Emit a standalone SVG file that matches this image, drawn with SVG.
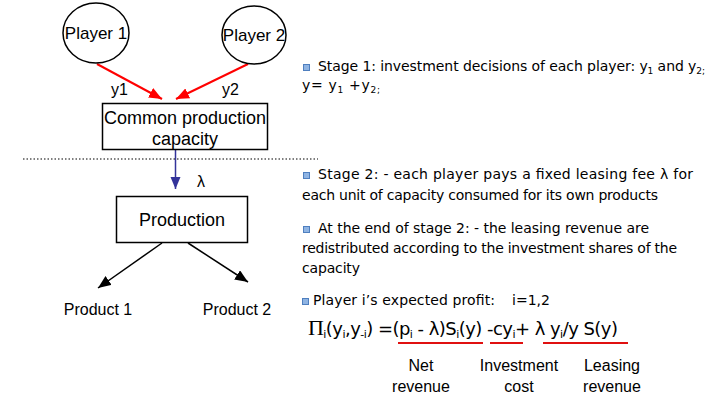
<svg xmlns="http://www.w3.org/2000/svg" width="709" height="397" viewBox="0 0 709 397">
<defs>
<style>
.d{font-family:"Liberation Sans",Arial,sans-serif;fill:#000}
.r{font-family:"DejaVu Sans","Liberation Sans",sans-serif;fill:#000;font-size:14px}
.f{font-family:"DejaVu Sans","Liberation Sans",sans-serif;fill:#000;font-size:18px}
.node{fill:#fff;stroke:#000;stroke-width:1.5}
.sub{font-size:9px}
.fs{font-size:11px}
.bul{fill:#8fb4e3;stroke:#4f7fbf;stroke-width:1}
.ul{stroke:#e01010;stroke-width:2}
</style>
<marker id="ar" viewBox="0 0 12 10" refX="12" refY="5" markerWidth="13" markerHeight="11" markerUnits="userSpaceOnUse" orient="auto"><path d="M0,0 L12,5 L0,10 Z" fill="#f00"/></marker>
<marker id="ab" viewBox="0 0 12 10" refX="12" refY="5" markerWidth="12" markerHeight="11" markerUnits="userSpaceOnUse" orient="auto"><path d="M0,0 L12,5 L0,10 Z" fill="#33339a"/></marker>
<marker id="ak" viewBox="0 0 12 10" refX="12" refY="5" markerWidth="13" markerHeight="11" markerUnits="userSpaceOnUse" orient="auto"><path d="M0,0 L12,5 L0,10 Z" fill="#000"/></marker>
</defs>
<rect width="709" height="397" fill="#fff"/>
<g id="connectors">
<line x1="97" y1="64" x2="162" y2="99" stroke="#f00" stroke-width="2" marker-end="url(#ar)"/>
<line x1="248" y1="64" x2="176" y2="99" stroke="#f00" stroke-width="2" marker-end="url(#ar)"/>
<text class="d" x="111" y="95" font-size="16">y1</text>
<text class="d" x="222" y="95" font-size="16">y2</text>
<line x1="175.5" y1="150" x2="175.5" y2="189" stroke="#33339a" stroke-width="1.5" marker-end="url(#ab)"/>
<text class="d" x="197" y="187" font-size="16">λ</text>
<line x1="162" y1="243" x2="98" y2="288" stroke="#000" stroke-width="1.5" marker-end="url(#ak)"/>
<line x1="188" y1="243" x2="248" y2="282" stroke="#000" stroke-width="1.5" marker-end="url(#ak)"/>
</g>
<line x1="23" y1="159" x2="318" y2="159" stroke="#000" stroke-width="1.2" stroke-dasharray="1.5,2"/>
<g id="player1"><ellipse class="node" cx="96" cy="33" rx="33" ry="30"/><text class="d" x="96" y="39" font-size="17" text-anchor="middle">Player 1</text></g>
<g id="player2"><ellipse class="node" cx="254" cy="35" rx="32" ry="29"/><text class="d" x="254" y="41" font-size="17" text-anchor="middle">Player 2</text></g>
<g id="capacity"><rect class="node" x="102.5" y="103.5" width="165" height="46"/><text class="d" font-size="18" text-anchor="middle"><tspan x="185" y="124">Common production</tspan><tspan x="185" y="145">capacity</tspan></text></g>
<g id="production"><rect class="node" x="116.5" y="196.5" width="131" height="46"/><text class="d" x="182" y="226" font-size="18" text-anchor="middle">Production</text></g>
<g id="product1"><text class="d" x="98" y="315" font-size="16" text-anchor="middle">Product 1</text></g>
<g id="product2"><text class="d" x="237" y="315" font-size="16" text-anchor="middle">Product 2</text></g>
<g id="notes">
<rect class="bul" x="303.5" y="64.5" width="6" height="6"/>
<text class="r" x="318" y="71" textLength="387" lengthAdjust="spacing">Stage 1: investment decisions of each player: y<tspan class="sub" dy="3">1</tspan><tspan dy="-3"> and y</tspan><tspan class="sub" dy="3">2;</tspan></text>
<text class="r" x="302" y="90" textLength="78" lengthAdjust="spacing">y= y<tspan class="sub" dy="3">1</tspan><tspan dy="-3"> +y</tspan><tspan class="sub" dy="3">2;</tspan></text>
<rect class="bul" x="303.5" y="172.5" width="6" height="6"/>
<text class="r" x="318" y="179" textLength="375" lengthAdjust="spacing">Stage 2: - each player pays a fixed leasing fee λ for</text>
<text class="r" x="302" y="200" textLength="356" lengthAdjust="spacing">each unit of capacity consumed for its own products</text>
<rect class="bul" x="303.5" y="226.5" width="6" height="6"/>
<text class="r" x="318" y="233" textLength="331" lengthAdjust="spacing">At the end of stage 2: - the leasing revenue are</text>
<text class="r" x="302" y="253" textLength="375" lengthAdjust="spacing">redistributed according to the investment shares of the</text>
<text class="r" x="302" y="273" textLength="58" lengthAdjust="spacing">capacity</text>
<rect class="bul" x="302.5" y="298.5" width="6" height="6"/>
<text class="r" x="313" y="305" textLength="182" lengthAdjust="spacing">Player i’s expected profit:</text>
<text class="r" x="512" y="305" textLength="38" lengthAdjust="spacing">i=1,2</text>
<text class="f" x="308" y="335" textLength="310" lengthAdjust="spacing"><tspan font-family="Liberation Serif,serif" font-size="22">Π</tspan><tspan class="fs" dy="3">i</tspan><tspan dy="-3">(y</tspan><tspan class="fs" dy="3">i</tspan><tspan dy="-3">,y</tspan><tspan class="fs" dy="3">-i</tspan><tspan dy="-3">) =(p</tspan><tspan class="fs" dy="3">i</tspan><tspan dy="-3"> - λ)S</tspan><tspan class="fs" dy="3">i</tspan><tspan dy="-3">(y) -cy</tspan><tspan class="fs" dy="3">i</tspan><tspan dy="-3">+ λ y</tspan><tspan class="fs" dy="3">i</tspan><tspan dy="-3">/y S(y)</tspan></text>
<line class="ul" x1="398" y1="343" x2="483" y2="343"/>
<line class="ul" x1="490" y1="343" x2="523" y2="343"/>
<line class="ul" x1="543" y1="343" x2="628" y2="343"/>
<text class="d" font-size="16" text-anchor="middle"><tspan x="421" y="371">Net</tspan><tspan x="421" y="392">revenue</tspan></text>
<text class="d" font-size="16" text-anchor="middle"><tspan x="519" y="371">Investment</tspan><tspan x="519" y="392">cost</tspan></text>
<text class="d" font-size="16" text-anchor="middle"><tspan x="612" y="371">Leasing</tspan><tspan x="612" y="392">revenue</tspan></text>
</g>
</svg>
